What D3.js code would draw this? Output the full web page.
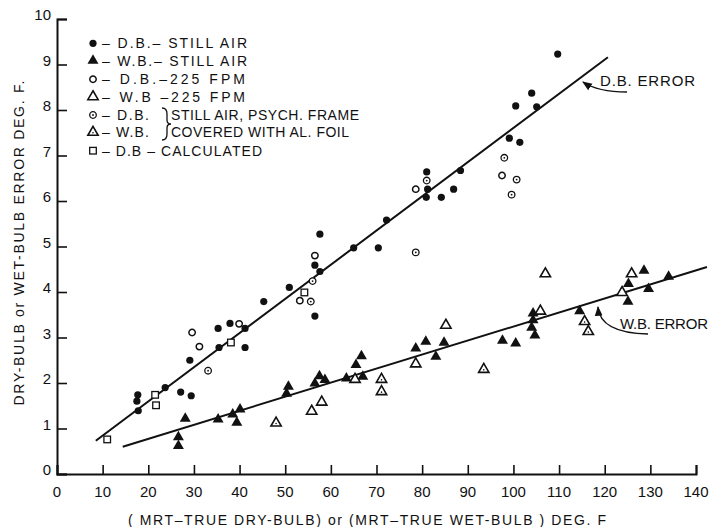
<!DOCTYPE html>
<html>
<head>
<meta charset="utf-8">
<script src="https://cdn.jsdelivr.net/npm/d3@7"></script>
<style>
  body { margin: 0; background: #fff; }
  text { font-family: "Liberation Sans", Arial, sans-serif; fill: #111; }
</style>
</head>
<body>
<svg id="chart" width="710" height="527"></svg>
<script>
// values (x = MRT - true temp, y = error, deg F)
const dbStill = [[17.7,1.74],[17.5,1.6],[17.8,1.39],[23.7,1.9],[27.1,1.8],[29.4,1.72],[29.1,2.5],
  [35.3,3.2],[35.5,2.78],[37.9,3.31],[41.2,3.2],[41.2,2.78],[45.3,3.79],[50.9,4.10],[56.5,4.59],
  [57.6,4.45],[57.6,5.27],[56.5,3.47],[65.0,4.97],[70.4,4.97],[72.2,5.58],[81.0,6.64],[81.2,6.26],
  [80.9,6.08],[84.2,6.08],[86.9,6.26],[88.4,6.67],[99.1,7.38],[101.4,7.29],[100.5,8.09],[105.1,8.07],
  [104.0,8.37],[109.7,9.23]];
const wbStill = [[26.6,0.62],[26.6,0.81],[28.1,1.22],[35.3,1.2],[39.4,1.13],[38.5,1.31],[40.1,1.42],
  [50.3,1.77],[50.7,1.92],[56.5,1.99],[57.5,2.15],[58.7,2.07],[63.4,2.1],[67.0,2.14],[65.5,2.4],
  [66.7,2.59],[78.6,2.76],[80.8,2.91],[84.8,2.89],[83.0,2.58],[97.6,2.93],[100.5,2.87],[104.7,3.05],
  [104.0,3.22],[104.3,3.38],[104.3,3.53],[114.5,3.58],[125.1,3.79],[125.2,4.18],[129.6,4.07],
  [128.6,4.47],[134.0,4.34]];
const db225 = [[29.6,3.11],[31.2,2.8],[39.9,3.3],[53.2,3.81],[56.5,4.8],[78.6,6.26],[97.5,6.56]];
const wb225 = [[55.8,1.38],[58.0,1.58],[65.3,2.08],[78.6,2.42],[85.2,3.27],[105.9,3.58],[107.0,4.40],
  [123.8,3.99],[125.9,4.40]];
const dbFoil = [[33.1,2.27],[55.6,3.79],[56.0,4.24],[78.6,4.87],[81.0,6.45],[98.0,6.95],[100.7,6.47],[99.6,6.14]];
const wbFoil = [[48.0,1.12],[71.1,1.81],[71.1,2.08],[93.5,2.30],[115.6,3.35],[116.4,3.13]];
const dbCalc = [[11.0,0.76],[21.5,1.74],[21.7,1.51],[38.1,2.89],[54.2,3.99]];

// hand-drawn fit lines (end points)
const dbLine = [[8.5,0.73],[120.7,9.16]];
const wbLine = [[14.4,0.6],[142.4,4.55]];

const xTicks = d3.range(0, 141, 10);
const yTicks = d3.range(0, 11, 1);

const legendRows = [
  { label: "– D.B.– STILL AIR", sym: "dot", len: 145 },
  { label: "– W.B.– STILL AIR", sym: "tri", len: 145 },
  { label: "– D.B.–225  FPM", sym: "ring", len: 143 },
  { label: "– W.B –225  FPM", sym: "otri", len: 143 },
  { label: "– D.B.", sym: "foil", len: 47, note: "STILL AIR, PSYCH. FRAME", noteLen: 188 },
  { label: "– W.B.", sym: "ftri", len: 47, note: "COVERED WITH AL. FOIL", noteLen: 178 },
  { label: "– D.B – CALCULATED", sym: "sq", len: 160 }
];

const svg = d3.select("#chart");
const ink = "#111";

const x = d3.scaleLinear().domain([0, 140]).range([57, 696]);
const y = d3.scaleLinear().domain([0, 10]).range([474, 19]);

//AXES
svg.append("g")
    .attr("transform", "translate(0,474)")
    .call(d3.axisBottom(x).tickValues(xTicks).tickSize(-9).tickFormat(""))
    .call(g => g.select(".domain").attr("stroke", ink).attr("stroke-width", 2))
    .call(g => g.selectAll(".tick line").attr("stroke", ink).attr("stroke-width", 1.6));

svg.append("g")
    .attr("transform", "translate(57,0)")
    .call(d3.axisLeft(y).tickValues(yTicks).tickSize(-10).tickFormat(""))
    .call(g => g.select(".domain").attr("stroke", ink).attr("stroke-width", 2))
    .call(g => g.selectAll(".tick line").attr("stroke", ink).attr("stroke-width", 1.6));

svg.append("g").selectAll("text").data(xTicks).enter().append("text")
    .attr("x", d => x(d))
    .attr("y", 497)
    .attr("text-anchor", "middle")
    .attr("font-size", 15)
    .text(d => d);

svg.append("g").selectAll("text").data(yTicks).enter().append("text")
    .attr("x", 51)
    .attr("y", d => y(d) + 1)
    .attr("text-anchor", "end")
    .attr("font-size", 15)
    .text(d => d);

svg.append("text")
    .attr("x", 367)
    .attr("y", 525)
    .attr("text-anchor", "middle")
    .attr("font-size", 14)
    .attr("textLength", 478)
    .attr("lengthAdjust", "spacing")
    .text("( MRT–TRUE DRY-BULB) or (MRT–TRUE WET-BULB )  DEG. F");

svg.append("text")
    .attr("transform", "translate(24,243) rotate(-90)")
    .attr("text-anchor", "middle")
    .attr("font-size", 14)
    .attr("textLength", 325)
    .attr("lengthAdjust", "spacing")
    .text("DRY-BULB  or  WET-BULB  ERROR  DEG. F.");

//FIT LINES
const line = d3.line().x(d => x(d[0])).y(d => y(d[1]));
[dbLine, wbLine].forEach(l => {
  svg.append("path")
      .attr("d", line(l))
      .attr("fill", "none")
      .attr("stroke", ink)
      .attr("stroke-width", 2);
});

//MARKERS
function drawMarker(g, kind) {
  if (kind === "dot") {
    g.append("circle").attr("r", 3.6).attr("fill", ink);
  } else if (kind === "ring") {
    g.append("circle").attr("r", 3.2).attr("fill", "#fff").attr("stroke", ink).attr("stroke-width", 1.5);
  } else if (kind === "foil") {
    g.append("circle").attr("r", 3.3).attr("fill", "#fff").attr("stroke", ink).attr("stroke-width", 1.3);
    g.append("circle").attr("r", 0.9).attr("fill", ink);
  } else if (kind === "tri") {
    g.append("path").attr("d", d3.symbol(d3.symbolTriangle, 52)()).attr("fill", ink);
  } else if (kind === "otri") {
    g.append("path").attr("d", d3.symbol(d3.symbolTriangle, 46)())
        .attr("fill", "#fff").attr("stroke", ink).attr("stroke-width", 1.6);
  } else if (kind === "ftri") {
    g.append("path").attr("d", d3.symbol(d3.symbolTriangle, 46)())
        .attr("fill", "#fff").attr("stroke", ink).attr("stroke-width", 1.6);
    g.append("circle").attr("r", 0.8).attr("cy", 0.5).attr("fill", ink);
  } else if (kind === "sq") {
    g.append("rect").attr("x", -3.3).attr("y", -3.3).attr("width", 6.6).attr("height", 6.6)
        .attr("fill", "#fff").attr("stroke", ink).attr("stroke-width", 1.3);
  }
}

const seriesList = [
  { data: wbStill, sym: "tri" },
  { data: wb225, sym: "otri" },
  { data: wbFoil, sym: "ftri" },
  { data: dbCalc, sym: "sq" },
  { data: db225, sym: "ring" },
  { data: dbFoil, sym: "foil" },
  { data: dbStill, sym: "dot" }
];

seriesList.forEach(s => {
  svg.append("g").selectAll("g").data(s.data).enter().append("g")
      .attr("transform", d => "translate(" + [x(d[0]), y(d[1])] + ")")
      .each(function() { drawMarker(d3.select(this), s.sym); });
});

//LEGEND
const rowY = [43.3, 60.7, 79.3, 96.7, 115, 132.3, 150.7];
const legend = svg.append("g").selectAll("g").data(legendRows).enter().append("g")
    .attr("transform", (d, i) => "translate(93," + rowY[i] + ")");

legend.each(function(d) { drawMarker(d3.select(this), d.sym); });

legend.append("text")
    .attr("x", 9)
    .attr("y", 5)
    .attr("font-size", 14)
    .attr("textLength", d => d.len)
    .attr("lengthAdjust", "spacing")
    .text(d => d.label);

legend.filter(d => d.note).append("text")
    .attr("x", 78)
    .attr("y", 5)
    .attr("font-size", 14)
    .attr("textLength", d => d.noteLen)
    .attr("lengthAdjust", "spacing")
    .text(d => d.note);

// brace joining the two foil rows
svg.append("path")
    .attr("d", "M162,108 Q167,108 167,114 L167,120 Q167,124 171,124 Q167,124 167,128 L167,134 Q167,140 162,140")
    .attr("fill", "none")
    .attr("stroke", ink)
    .attr("stroke-width", 1.3);

//ANNOTATIONS
svg.append("defs").append("marker")
    .attr("id", "arrow")
    .attr("viewBox", "0 0 10 10")
    .attr("refX", 9).attr("refY", 5)
    .attr("markerWidth", 7).attr("markerHeight", 7)
    .attr("orient", "auto")
    .append("path")
    .attr("d", "M0,1 L10,5 L0,9 Z")
    .attr("fill", ink);

svg.append("path")
    .attr("d", "M627,92 Q598,92 583,82")
    .attr("fill", "none").attr("stroke", ink).attr("stroke-width", 1.4)
    .attr("marker-end", "url(#arrow)");

svg.append("path")
    .attr("d", "M648,334 Q600,333 598,307")
    .attr("fill", "none").attr("stroke", ink).attr("stroke-width", 1.4)
    .attr("marker-end", "url(#arrow)");

svg.append("text")
    .attr("x", 600).attr("y", 86)
    .attr("font-size", 15)
    .attr("textLength", 95).attr("lengthAdjust", "spacing")
    .text("D.B.  ERROR");

svg.append("text")
    .attr("x", 620).attr("y", 329)
    .attr("font-size", 15)
    .attr("textLength", 88).attr("lengthAdjust", "spacing")
    .text("W.B. ERROR");
</script>
</body>
</html>
